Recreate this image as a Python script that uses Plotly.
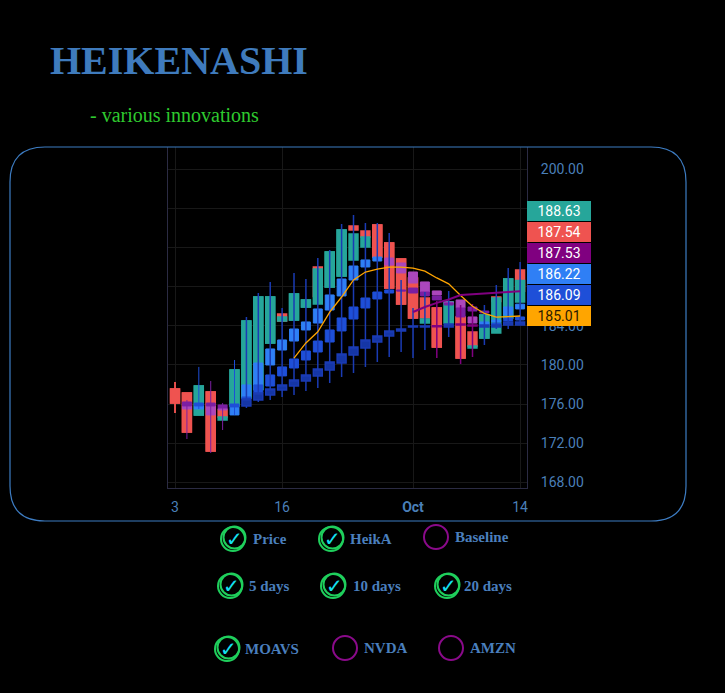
import plotly.graph_objects as go

# Trading days shown on the chart
dates = ["2024-09-03", "2024-09-04", "2024-09-05", "2024-09-06", "2024-09-09",
         "2024-09-10", "2024-09-11", "2024-09-12", "2024-09-13", "2024-09-16",
         "2024-09-17", "2024-09-18", "2024-09-19", "2024-09-20", "2024-09-23",
         "2024-09-24", "2024-09-25", "2024-09-26", "2024-09-27", "2024-09-30",
         "2024-10-01", "2024-10-02", "2024-10-03", "2024-10-04", "2024-10-07",
         "2024-10-08", "2024-10-09", "2024-10-10", "2024-10-11", "2024-10-14"]

# Price candles
price_open = [177.55, 177.14, 174.89, 177.24, 175.40, 175.81, 176.60, 177.50, 182.25, 185.21,
              184.60, 185.93, 190.02, 187.98, 189.10, 194.21, 193.70, 194.31, 192.47, 190.84,
              188.90, 186.85, 185.83, 184.29, 184.91, 183.37, 182.76, 186.95, 184.81, 189.71]
price_high = [178.26, 177.14, 177.85, 177.24, 175.40, 179.49, 184.50, 186.95, 186.95, 185.21,
              187.26, 186.65, 190.02, 191.55, 193.80, 194.21, 193.70, 194.31, 192.47, 190.84,
              188.90, 186.85, 185.83, 186.44, 184.91, 183.37, 185.11, 186.95, 188.79, 189.71]
price_low = [175.09, 173.15, 174.89, 171.21, 174.68, 175.81, 176.60, 177.50, 182.25, 184.50,
             184.60, 185.93, 187.00, 187.98, 189.10, 193.80, 193.09, 191.04, 187.87, 186.24,
             184.81, 184.81, 181.84, 184.29, 180.72, 181.94, 182.76, 186.50, 184.81, 187.54]
price_close = [176.11, 173.15, 177.85, 171.21, 174.68, 179.49, 184.50, 186.95, 186.95, 184.50,
               187.26, 186.65, 187.00, 191.55, 193.80, 193.80, 193.09, 191.04, 187.87, 186.24,
               184.81, 184.81, 181.84, 186.44, 180.72, 181.94, 185.11, 186.50, 188.79, 187.54]

# Heikin-Ashi candles
ha_open = [177.55, 177.14, 174.89, 177.24, 174.38, 175.81, 176.60, 177.50, 182.25, 184.50,
           184.60, 185.93, 186.24, 187.98, 189.10, 190.74, 192.07, 194.31, 192.47, 190.84,
           188.90, 184.29, 185.83, 184.29, 184.91, 181.74, 182.76, 183.27, 184.81, 186.44]
ha_high = [178.26, 177.14, 177.85, 177.24, 174.68, 179.49, 184.50, 186.95, 186.95, 184.91,
           187.26, 186.65, 189.82, 191.55, 193.80, 193.39, 193.09, 194.31, 192.47, 190.84,
           188.90, 184.70, 185.83, 186.44, 184.91, 181.94, 185.11, 186.85, 188.79, 188.63]
ha_low = [175.09, 173.15, 174.89, 171.21, 174.38, 175.81, 176.60, 177.50, 182.25, 184.50,
          184.60, 185.93, 186.24, 187.98, 189.10, 190.74, 192.07, 191.04, 187.87, 186.24,
          184.81, 184.29, 181.84, 184.29, 180.72, 181.74, 182.76, 183.27, 184.81, 186.44]
ha_close = [176.11, 173.15, 177.85, 171.21, 174.68, 179.49, 184.50, 186.95, 186.95, 184.91,
            187.26, 186.65, 189.82, 191.55, 193.80, 193.39, 193.09, 191.04, 187.87, 186.24,
            184.81, 184.70, 181.84, 186.44, 180.72, 181.94, 185.11, 186.85, 188.79, 188.63]

# 5 day moving-average candles
ma5_open = [None, 175.81, 175.50, 175.81, 175.60, 174.89, 176.73, 177.96, 180.00, 181.53,
            182.45, 183.58, 184.29, 185.62, 187.06, 188.69, 190.02, 190.63, 190.94, 190.43,
            189.51, 188.49, 187.57, 186.44, 186.65, 184.91, 184.09, 184.40, 185.11, 185.73]
ma5_high = [None, 175.81, 175.81, 175.81, 175.60, 175.71, 177.96, 180.20, 181.64, 182.56,
            183.68, 184.40, 185.73, 187.16, 188.79, 190.12, 190.74, 191.04, 190.94, 190.43,
            189.51, 188.49, 187.57, 186.44, 186.65, 184.91, 184.40, 184.60, 185.93, 186.22]
ma5_low = [None, 175.50, 175.50, 174.89, 175.40, 174.89, 176.73, 177.96, 180.00, 181.53,
           182.45, 183.58, 184.29, 185.62, 187.06, 188.69, 190.02, 190.63, 190.22, 189.41,
           188.38, 187.46, 187.16, 186.24, 185.83, 184.29, 184.09, 184.40, 185.11, 185.73]
ma5_close = [None, 175.50, 175.81, 174.89, 175.40, 175.71, 177.96, 180.20, 181.64, 182.56,
             183.68, 184.40, 185.73, 187.16, 188.79, 190.12, 190.74, 191.04, 190.22, 189.41,
             188.38, 187.46, 187.16, 186.24, 185.83, 184.29, 184.40, 184.60, 185.93, 186.22]

# 10 day moving-average candles
ma10_open = [None, 176.22, 175.81, 176.11, 175.91, 175.71, 176.52, 177.14, 177.85, 178.88,
             179.69, 180.51, 181.33, 182.35, 183.48, 184.70, 185.83, 186.75, 187.36, 187.67,
             187.87, 187.46, 187.06, 186.34, 185.83, 185.93, 185.52, 184.09, 184.50, 184.60]
ma10_high = [None, 176.42, 179.80, 178.36, 176.11, 180.51, 176.73, 177.96, 178.98, 179.80,
             180.61, 181.43, 182.45, 183.58, 184.81, 185.93, 186.85, 187.46, 187.67, 187.67,
             187.87, 187.46, 187.06, 186.34, 185.83, 185.93, 185.52, 184.29, 184.81, 184.91]
ma10_low = [None, 172.43, 175.50, 171.00, 173.35, 174.89, 176.52, 177.14, 177.85, 178.88,
            179.69, 180.51, 181.33, 182.35, 183.48, 184.70, 185.83, 186.75, 187.36, 187.57,
            187.36, 187.06, 186.65, 186.13, 184.91, 185.52, 185.32, 184.09, 184.50, 184.60]
ma10_close = [None, 175.81, 176.11, 175.81, 175.60, 176.01, 176.73, 177.96, 178.98, 179.80,
              180.61, 181.43, 182.45, 183.58, 184.81, 185.93, 186.85, 187.46, 187.67, 187.57,
              187.36, 187.06, 186.65, 186.13, 184.91, 185.52, 185.32, 184.29, 184.81, 184.91]

# 20 day moving-average candles
ma20_open = [None, None, None, None, None, None, 175.81, 176.42, 176.93, 177.44,
             177.85, 178.36, 178.88, 179.49, 180.20, 181.02, 181.74, 182.35, 182.97, 183.48,
             183.89, 183.89, 184.00, 183.89, 184.19, 184.09, 183.89, 183.89, 184.09, 184.09]
ma20_high = [None, None, None, None, None, None, 184.91, 187.36, 188.49, 185.83,
             189.41, 188.79, 190.94, 191.76, 194.42, 195.34, 194.52, 194.52, 193.50, 188.69,
             185.83, 187.46, 186.54, 187.57, 186.13, 186.24, 186.13, 188.18, 189.92, 190.53]
ma20_low = [None, None, None, None, None, None, 175.60, 176.22, 176.42, 176.73,
            176.93, 177.34, 177.65, 178.16, 178.77, 179.18, 179.80, 180.31, 180.82, 181.33,
            180.72, 181.53, 180.72, 182.86, 180.10, 180.82, 182.05, 183.68, 183.68, 184.09]
ma20_close = [None, None, None, None, None, None, 176.52, 177.14, 177.55, 177.96,
              178.47, 178.98, 179.59, 180.31, 181.12, 181.84, 182.56, 182.97, 183.48, 183.68,
              183.99, 183.99, 183.90, 184.19, 184.09, 183.99, 184.09, 184.09, 184.40, 184.40]

# MOAVS lines
moav_orange = [None] * 10 + [180.70, 182.25, 183.40, 185.40, 186.95, 188.70, 189.50, 189.80,
                             190.00, 190.00, 189.90, 189.60, 188.90, 188.30, 187.10, 186.00,
                             185.27, 184.90, 184.95, 185.01]
moav_purple = [None] * 20 + [185.42, 185.93, 186.35, 186.70, 187.15, 187.25, 187.30, 187.38,
                             187.45, 187.53]

# last-value price labels on the right scale
last_values = [188.63, 187.54, 187.53, 186.22, 186.09, 185.01]
last_colors = ["#26a69a", "#ef5350", "#800080", "#2f7ff5", "#1e4fd8", "#ffa500"]

x_tick_vals = ["2024-09-03", "2024-09-16", "2024-10-01", "2024-10-14"]
x_tick_text = ["3", "16", "<b>Oct</b>", "14"]
y_tick_vals = [168, 172, 176, 180, 184, 188, 192, 196, 200]
# 188/192/196 sit under the stacked value labels, so their text is left out
y_tick_text = ["168.00", "172.00", "176.00", "180.00", "184.00", "", "", "", "200.00"]

# checkbox row under the chart
toggle_names = ["Price", "HeikA", "Baseline", "5 days", "10 days", "20 days", "MOAVS", "NVDA", "AMZN"]
toggle_on = [True, True, False, True, True, True, True, False, False]

W, H = 725, 693
L, R, T, B = 168, 527, 147, 488  # plot area (pixels)


def px(x):
    return (x - L) / (R - L)


def py(y):
    return (B - y) / (B - T)


def candle(o, h, l, c, up_fill, up_line, dn_fill, dn_line, lw=1.5):
    return go.Candlestick(
        x=dates, open=o, high=h, low=l, close=c,
        increasing=dict(fillcolor=up_fill, line=dict(color=up_line, width=lw)),
        decreasing=dict(fillcolor=dn_fill, line=dict(color=dn_line, width=lw)),
        hoverinfo="skip", showlegend=False)


fig = go.Figure()
fig.add_trace(candle(price_open, price_high, price_low, price_close,
                     "#26a69a", "#26a69a", "#ef5350", "#ef5350"))
fig.add_trace(candle(ha_open, ha_high, ha_low, ha_close,
                     "#26a69a", "#26a69a", "#ef5350", "#ef5350"))
fig.add_trace(candle(ma5_open, ma5_high, ma5_low, ma5_close,
                     "#2f7ff5", "#2f7ff5", "#ab47bc", "#ab47bc", lw=1))
fig.add_trace(candle(ma10_open, ma10_high, ma10_low, ma10_close,
                     "#1e4fd8", "#1e4fd8", "#7b1fa2", "#7b1fa2", lw=1))
fig.add_trace(candle(ma20_open, ma20_high, ma20_low, ma20_close,
                     "#1536a6", "#1a3bb4", "#800080", "#800080", lw=1.5))
fig.add_trace(go.Scatter(x=dates, y=moav_orange, mode="lines",
                         line=dict(color="#ffa500", width=1.3), hoverinfo="skip", showlegend=False))
fig.add_trace(go.Scatter(x=dates, y=moav_purple, mode="lines",
                         line=dict(color="#800080", width=2), hoverinfo="skip", showlegend=False))

tick_font = dict(family="Roboto, sans-serif", size=14, color="#4a7fb8")

fig.update_layout(
    width=W, height=H,
    margin=dict(l=L, r=W - R, t=T, b=H - B, pad=0),
    paper_bgcolor="black", plot_bgcolor="black",
    boxgap=0.25, boxgroupgap=0,
    xaxis=dict(type="category", range=[-0.59, 29.58], rangeslider=dict(visible=False),
               tickvals=x_tick_vals, ticktext=x_tick_text, tickfont=tick_font,
               ticks="outside", ticklen=6, tickcolor="rgba(0,0,0,0)",
               showgrid=True, gridcolor="#181818", showline=True, linecolor="#2b2b43",
               linewidth=1, zeroline=False, fixedrange=True),
    yaxis=dict(side="right", range=[167.42, 202.29], tickvals=y_tick_vals, ticktext=y_tick_text,
               tickfont=tick_font, ticks="outside", ticklen=10, tickcolor="rgba(0,0,0,0)",
               showgrid=True, gridcolor="#181818", showline=True, mirror=True,
               linecolor="#2b2b43", linewidth=1, zeroline=False, fixedrange=True),
)

annotations = []
# header
annotations.append(dict(text="<b>HEIKENASHI</b>", x=px(179), y=py(60), xref="paper", yref="paper",
                        showarrow=False, xanchor="center", yanchor="middle",
                        font=dict(family="Liberation Serif, serif", size=40, color="#3f7bbd")))
annotations.append(dict(text="- various innovations", x=px(174), y=py(115), xref="paper", yref="paper",
                        showarrow=False, xanchor="center", yanchor="middle",
                        font=dict(family="Liberation Serif, serif", size=20, color="#2fc92f")))

# stacked last-value labels
n = len(last_values)
for k, (val, col) in enumerate(zip(last_values, last_colors)):
    annotations.append(dict(text=f"{val:.2f}", x=1, xref="paper", y=last_values[-1], yref="y",
                            yshift=21 * (n - 1 - k), xanchor="left", yanchor="middle",
                            showarrow=False, bgcolor=col, bordercolor=col, borderwidth=1,
                            borderpad=1, width=60, height=16, align="center",
                            font=dict(family="Roboto, sans-serif", size=14,
                                      color="#2a1a00" if col == "#ffa500" else "white")))

shapes = []
# rounded frame around the chart
x0, x1, y0, y1, r = 10, 686, 147, 521, 35
pts = [("M", x0 + r, y0), ("L", x1 - r, y0), ("Q", x1, y0, x1, y0 + r), ("L", x1, y1 - r),
       ("Q", x1, y1, x1 - r, y1), ("L", x0 + r, y1), ("Q", x0, y1, x0, y1 - r),
       ("L", x0, y0 + r), ("Q", x0, y0, x0 + r, y0)]
path = ""
for p in pts:
    cmd, coords = p[0], p[1:]
    parts = []
    for i in range(0, len(coords), 2):
        parts.append(f"{px(coords[i]):.5f},{py(coords[i + 1]):.5f}")
    path += cmd + " ".join(parts) + " "
path += "Z"
shapes.append(dict(type="path", path=path, xref="paper", yref="paper",
                   line=dict(color="#3d7cc2", width=1.2), layer="above"))

# checkboxes
circle_pos = [(233, 539), (331, 539), (436, 537), (230, 586), (333, 586), (447, 586),
              (227, 649), (345, 648), (451, 648)]
label_left = [251, 348, 453, 247, 351, 462, 243, 362, 468]
for name, on, (cx, cy), lx in zip(toggle_names, toggle_on, circle_pos, label_left):
    if on:
        for dx, dy, rr in [(0, 0, 12), (1.5, -1.5, 11)]:
            shapes.append(dict(type="circle", xref="paper", yref="paper",
                               x0=px(cx + dx - rr), x1=px(cx + dx + rr),
                               y0=py(cy + dy + rr), y1=py(cy + dy - rr),
                               line=dict(color="#1fcf5c", width=2)))
        annotations.append(dict(text="<b>✓</b>", x=px(cx + 1), y=py(cy), xref="paper", yref="paper",
                                showarrow=False, xanchor="center", yanchor="middle",
                                font=dict(family="DejaVu Sans, sans-serif", size=20, color="#14e0f0")))
    else:
        shapes.append(dict(type="circle", xref="paper", yref="paper",
                           x0=px(cx - 12), x1=px(cx + 12), y0=py(cy + 12), y1=py(cy - 12),
                           line=dict(color="#8a0a8a", width=2)))
    annotations.append(dict(text=f"<b>{name}</b>", x=px(lx), y=py(cy), xref="paper", yref="paper",
                            showarrow=False, xanchor="left", yanchor="middle",
                            font=dict(family="Liberation Serif, serif", size=15, color="#4a7fbd")))

fig.update_layout(annotations=annotations, shapes=shapes)

fig.write_html("out.html", config={"displayModeBar": False},
               post_script="document.body.style.margin='0';document.body.style.background='black';")
